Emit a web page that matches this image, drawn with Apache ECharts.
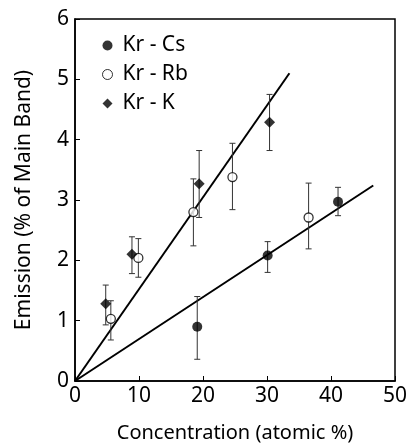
<!DOCTYPE html>
<html><head><meta charset="utf-8">
<script src="https://cdn.jsdelivr.net/npm/echarts@6/dist/echarts.min.js"></script>
<style>html,body{margin:0;padding:0;background:#fff}#c{width:410px;height:445px}</style>
</head><body><div id="c"></div>
<script>
// Kr-Cs (filled circles)
const csX = [19.1, 30.1, 41.1];
const csY = [0.9, 2.08, 2.97];
const csLo = [0.36, 1.80, 2.74];
const csHi = [1.40, 2.31, 3.21];
// Kr-Rb (open circles)
const rbX = [5.6, 9.9, 18.5, 24.6, 36.5];
const rbY = [1.03, 2.04, 2.8, 3.38, 2.71];
const rbLo = [0.68, 1.72, 2.24, 2.84, 2.19];
const rbHi = [1.33, 2.36, 3.35, 3.94, 3.28];
// Kr-K (diamonds)
const kX = [4.8, 8.9, 19.4, 30.4];
const kY = [1.28, 2.1, 3.27, 4.29];
const kLo = [0.93, 1.78, 2.71, 3.82];
const kHi = [1.59, 2.39, 3.82, 4.75];
// fitted lines
const steepLine = [[0, 0], [33.5, 5.1]];
const shallowLine = [[0, 0], [46.6, 3.24]];
const seriesNames = ['Kr - Cs', 'Kr - Rb', 'Kr - K'];

const FONT = 'Noto Sans';
const zip = (a, b) => a.map((v, i) => [v, b[i]]);
const errData = [].concat(
  csX.map((x, i) => [x, csLo[i], csHi[i]]),
  rbX.map((x, i) => [x, rbLo[i], rbHi[i]]),
  kX.map((x, i) => [x, kLo[i], kHi[i]])
);

const chart = echarts.init(document.getElementById('c'));
chart.setOption({
  animation: false,
  backgroundColor: '#fff',
  grid: { left: 75, right: 15, top: 19, bottom: 64, show: true, borderColor: '#000', borderWidth: 1.5, containLabel: false, outerBoundsMode: 'none' },
  legend: {
    orient: 'vertical', left: 97, top: 30, itemGap: 8, itemWidth: 10, itemHeight: 10,
    textStyle: { fontFamily: FONT, fontSize: 21, color: '#000', padding: [0, 0, 0, 5] },
    data: [
      { name: seriesNames[0], icon: 'circle', itemStyle: { color: '#000' } },
      { name: seriesNames[1], icon: 'circle', itemStyle: { color: '#fff', borderColor: '#000', borderWidth: 1 } },
      { name: seriesNames[2], icon: 'diamond', itemStyle: { color: '#000' } }
    ]
  },
  xAxis: {
    type: 'value', min: 0, max: 50, interval: 10,
    name: 'Concentration (atomic %)', nameLocation: 'middle', nameGap: 42,
    nameTextStyle: { fontFamily: FONT, fontSize: 20, color: '#000' },
    axisLine: { lineStyle: { color: '#000', width: 1.5 } },
    axisTick: { inside: true, length: 5, lineStyle: { color: '#000' } },
    axisLabel: { fontFamily: FONT, fontSize: 21, color: '#000', margin: 5 },
    splitLine: { show: false }
  },
  yAxis: {
    type: 'value', min: 0, max: 6, interval: 1,
    name: 'Emission (% of Main Band)', nameLocation: 'middle', nameGap: 40,
    nameTextStyle: { fontFamily: FONT, fontSize: 21, color: '#000' },
    axisLine: { show: true, lineStyle: { color: '#000', width: 1.5 } },
    axisTick: { show: true, inside: true, length: 5, lineStyle: { color: '#000' } },
    axisLabel: { fontFamily: FONT, fontSize: 21, color: '#000', margin: 6 },
    splitLine: { show: false }
  },
  series: [
    { type: 'line', data: steepLine, showSymbol: false, symbol: 'none', lineStyle: { color: '#000', width: 2 }, z: 2, silent: true },
    { type: 'line', data: shallowLine, showSymbol: false, symbol: 'none', lineStyle: { color: '#000', width: 2 }, z: 2, silent: true },
    {
      type: 'custom', data: errData, z: 3, silent: true,
      renderItem: function (params, api) {
        const x = api.value(0);
        const lo = api.coord([x, api.value(1)]);
        const hi = api.coord([x, api.value(2)]);
        const w = 3;
        const st = { stroke: '#333', lineWidth: 1 };
        return { type: 'group', children: [
          { type: 'line', shape: { x1: lo[0], y1: lo[1], x2: hi[0], y2: hi[1] }, style: st },
          { type: 'line', shape: { x1: lo[0] - w, y1: lo[1], x2: lo[0] + w, y2: lo[1] }, style: st },
          { type: 'line', shape: { x1: hi[0] - w, y1: hi[1], x2: hi[0] + w, y2: hi[1] }, style: st }
        ] };
      }
    },
    { name: seriesNames[0], type: 'scatter', data: zip(csX, csY), symbol: 'circle', symbolSize: 10, itemStyle: { color: '#000' }, z: 5 },
    { name: seriesNames[1], type: 'scatter', data: zip(rbX, rbY), symbol: 'circle', symbolSize: 9, itemStyle: { color: '#fff', borderColor: '#000', borderWidth: 1.3 }, z: 5 },
    { name: seriesNames[2], type: 'scatter', data: zip(kX, kY), symbol: 'diamond', symbolSize: 11, itemStyle: { color: '#000' }, z: 5 }
  ]
});
</script></body></html>
